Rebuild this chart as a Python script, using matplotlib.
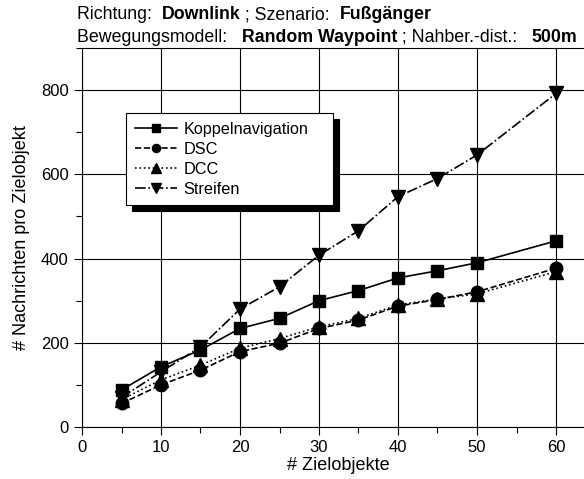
import numpy as np
import matplotlib
matplotlib.use('Agg')
import matplotlib.pyplot as plt
from matplotlib.ticker import MultipleLocator

plt.rcParams['font.family'] = ['Liberation Sans', 'DejaVu Sans']

# Data
zielobjekte = [5, 10, 15, 20, 25, 30, 35, 40, 45, 50, 60]
koppel = [88, 143, 183, 234, 258, 300, 324, 354, 371, 390, 442]
dsc = [56, 100, 135, 179, 199, 234, 254, 287, 303, 321, 377]
dcc = [65, 112, 147, 187, 210, 238, 258, 290, 304, 316, 369]
streifen = [70, 131, 190, 280, 333, 408, 466, 547, 590, 646, 792]

labels = ['Koppelnavigation', 'DSC', 'DCC', 'Streifen']

fig = plt.figure(figsize=(5.84, 4.79), dpi=100)
ax = fig.add_axes([82/584, 1 - 427/479, (595.5 - 82)/584, 379/479])

ms = 9
ax.plot(zielobjekte, koppel, '-', marker='s', color='k', lw=1.2, ms=ms, label=labels[0])
ax.plot(zielobjekte, dsc, '--', marker='o', color='k', lw=1.2, ms=ms, label=labels[1])
ax.plot(zielobjekte, dcc, ':', marker='^', color='k', lw=1.2, ms=ms + 1, label=labels[2])
ax.plot(zielobjekte, streifen, '-.', marker='v', color='k', lw=1.2, ms=ms + 1, label=labels[3])

ax.set_xlim(0, 65)
ax.set_ylim(0, 900)
ax.set_xticks(np.arange(0, 61, 10))
ax.xaxis.set_minor_locator(MultipleLocator(5))
ax.yaxis.set_major_locator(MultipleLocator(200))
ax.yaxis.set_minor_locator(MultipleLocator(100))
ax.grid(True, which='major', color='k', lw=0.8)
ax.tick_params(which='major', direction='out', length=6, width=0.8, labelsize=12, colors='k')
ax.tick_params(which='minor', direction='out', length=4, width=0.8)
for s in ax.spines.values():
    s.set_linewidth(0.8)
ax.spines['right'].set_visible(False)

ax.set_xlabel('# Zielobjekte', fontsize=13, labelpad=1)
ax.set_ylabel('# Nachrichten pro Zielobjekt', fontsize=13, labelpad=8)

# legend box: fixed width via expand mode
leg = ax.legend(loc='upper left', bbox_to_anchor=(0.0857, 0.5, 0.403, 0.3285),
                mode='expand', borderaxespad=0,
                fancybox=False, framealpha=1, edgecolor='k', fontsize=11.7,
                handlelength=2.6, handletextpad=0.4, labelspacing=0.3,
                borderpad=0.55, markerscale=0.65,
                shadow={'ox': 4, 'oy': -4, 'color': 'k', 'alpha': 1})
leg.get_frame().set_linewidth(0.8)


def title_line(parts, x, y, size=12.8):
    t = fig.text(x, y, parts[0][0], fontweight=parts[0][1], fontsize=size, va='bottom')
    for s, w in parts[1:]:
        t = ax.annotate(s, xy=(1, 0), xycoords=t, fontweight=w, fontsize=size,
                        va='bottom', ha='left', annotation_clip=False)
    return t


title_line([('Richtung:  ', 'normal'), ('Downlink', 'bold'), (' ; Szenario:  ', 'normal'),
            ('Fußgänger', 'bold')], 77/584, 1 - 23/479)
title_line([('Bewegungsmodell:   ', 'normal'), ('Random Waypoint', 'bold'),
            (' ; Nahber.-dist.:   ', 'normal'), ('500m', 'bold')], 77/584, 1 - 46/479)

fig.savefig('out.png', dpi=100)
